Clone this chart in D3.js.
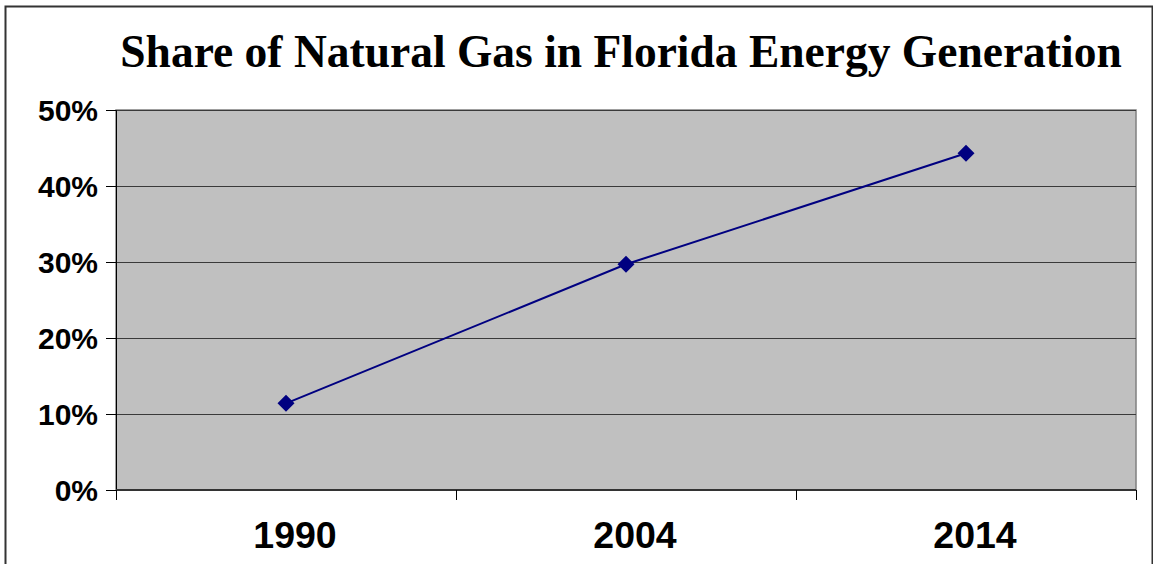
<!DOCTYPE html>
<html>
<head>
<meta charset="utf-8">
<script src="https://cdn.jsdelivr.net/npm/d3@7"></script>
<style>
body { margin: 0; background: #fff; }
</style>
</head>
<body>
<script>
var years = ["1990", "2004", "2014"];
var shares = [0.114, 0.297, 0.443];
var yTicks = [0, 0.1, 0.2, 0.3, 0.4, 0.5];

var w = 1153;
var h = 564;
var plotL = 116, plotT = 110, plotR = 1136, plotB = 490;

var svg = d3.select("body")
	.append("svg")
	.attr("width", w)
	.attr("height", h);

// outer frame
svg.append("path")
	.attr("d", "M5.5," + h + "V6.5H" + (w - 0.5) + "V" + h)
	.attr("fill", "none")
	.attr("stroke", "#333")
	.attr("stroke-width", 2);

svg.append("text")
	.attr("x", 621)
	.attr("y", 67)
	.attr("text-anchor", "middle")
	.style("font-family", "'Liberation Serif', 'Times New Roman', serif")
	.style("font-weight", "bold")
	.style("font-size", "45.5px")
	.text("Share of Natural Gas in Florida Energy Generation");

var x = d3.scaleBand().domain(years).range([plotL, plotR]);
var y = d3.scaleLinear().domain([0, 0.5]).range([plotB, plotT]);

svg.append("rect")
	.attr("x", plotL)
	.attr("y", plotT)
	.attr("width", plotR - plotL)
	.attr("height", plotB - plotT)
	.attr("fill", "#c0c0c0")
	.attr("stroke", "#808080")
	.attr("stroke-width", 1.5);

// gridlines
svg.selectAll(".grid")
	.data(yTicks.slice(1))
	.enter()
	.append("line")
	.attr("x1", plotL)
	.attr("x2", plotR)
	.attr("y1", function(d){ return Math.round(y(d)) + 0.5; })
	.attr("y2", function(d){ return Math.round(y(d)) + 0.5; })
	.attr("stroke", "#3a3a3a")
	.attr("stroke-width", 1);

// y axis
var yAxis = svg.append("g")
	.attr("transform", "translate(" + plotL + ",0)")
	.call(d3.axisLeft(y).tickValues(yTicks).tickFormat(d3.format(".0%")).tickSize(10).tickPadding(8));
yAxis.select(".domain").attr("stroke", "#000");
yAxis.selectAll("text")
	.style("font-family", "'Liberation Sans', Arial, sans-serif")
	.style("font-weight", "bold")
	.style("font-size", "30px")
	.attr("dy", "0.36em")
	.attr("fill", "#000");

// x axis with boundary ticks
svg.append("line")
	.attr("x1", plotL).attr("x2", plotR)
	.attr("y1", plotB).attr("y2", plotB)
	.attr("stroke", "#333").attr("stroke-width", 2);
var bounds = years.map(function(d){ return x(d); }).concat([plotR]);
svg.selectAll(".xtick")
	.data(bounds)
	.enter()
	.append("line")
	.attr("x1", function(d){ return d + 0.5; })
	.attr("x2", function(d){ return d + 0.5; })
	.attr("y1", plotB)
	.attr("y2", plotB + 10)
	.attr("stroke", "#000");
svg.selectAll(".xlab")
	.data(years)
	.enter()
	.append("text")
	.attr("x", function(d){ return x(d) + x.bandwidth() / 2 + 9; })
	.attr("y", 548)
	.attr("text-anchor", "middle")
	.style("font-family", "'Liberation Sans', Arial, sans-serif")
	.style("font-weight", "bold")
	.style("font-size", "37.5px")
	.text(function(d){ return d; });

var line = d3.line()
	.x(function(d, i){ return x(years[i]) + x.bandwidth() / 2; })
	.y(function(d){ return y(d); });

svg.append("path")
	.datum(shares)
	.attr("d", line)
	.attr("fill", "none")
	.attr("stroke", "#000080")
	.attr("stroke-width", 2);

svg.selectAll(".pt")
	.data(shares)
	.enter()
	.append("path")
	.attr("d", "M0,-8.5L8.5,0L0,8.5L-8.5,0Z")
	.attr("transform", function(d, i){ return "translate(" + (x(years[i]) + x.bandwidth() / 2) + "," + y(d) + ")"; })
	.attr("fill", "#000080");
</script>
</body>
</html>
